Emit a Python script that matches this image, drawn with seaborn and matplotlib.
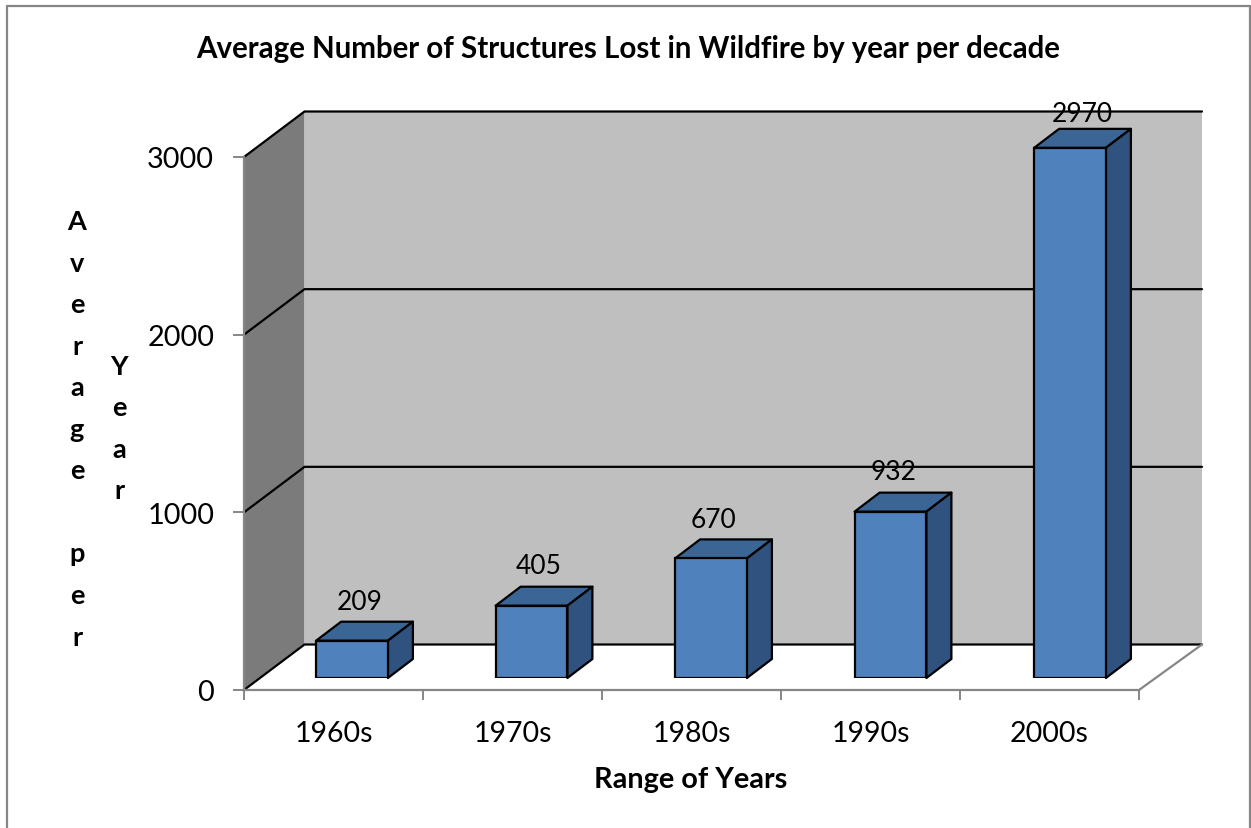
import matplotlib
matplotlib.use("Agg")
import matplotlib.pyplot as plt
from matplotlib.lines import Line2D
from matplotlib.patches import Polygon
import pandas as pd
import seaborn as sns

# Chart data
decades = ["1960s", "1970s", "1980s", "1990s", "2000s"]
structures_lost = [209, 405, 670, 932, 2970]
y_ticks = [0, 1000, 2000, 3000]

title = "Average Number of Structures Lost in Wildfire by year per decade"
x_title = "Range of Years"
y_title_first = "Average per"
y_title_second = "Year"

# Label nudges in pixels from the bar centre and the bar's back top edge
label_nudge = [8, 7, 2, 3, 12]
label_lift = [20, 21, 20, 21, 15]

WIDTH, HEIGHT = 1251, 829
FACE = "#4f81bd"
TOP = "#3b6595"
SIDE = "#30527e"
BACK_WALL = "#bfbfbf"
SIDE_WALL = "#7b7b7b"
AXIS_GREY = "#868686"
BODY_FONT = "Lato"

sns.set_theme(style="white", rc={"font.family": BODY_FONT})

fig = plt.figure(figsize=(WIDTH / 100, HEIGHT / 100), dpi=100, facecolor="white")


def px_axes(left, right, top, bottom):
    """Axes placed by pixel edges, measured from the top-left of the figure."""
    return fig.add_axes([left / WIDTH, 1 - bottom / HEIGHT,
                         (right - left) / WIDTH, (bottom - top) / HEIGHT])


# Wall axes: the front plane of the chart box
ax = px_axes(244, 1139, 158, 691)
ax.set_xlim(-0.5, 4.5)
ax.set_ylim(0, 3000)
ax.patch.set_visible(False)

wall_dx = 60.5 / 179
wall_right = 63 / 179
wall_dy = 45.5 / (533 / 3000)
x0, x1 = -0.5, 4.5
y_top = y_ticks[-1]

ax.add_patch(Polygon([(x0 + wall_dx, wall_dy), (x1 + wall_right, wall_dy),
                      (x1 + wall_right, y_top + wall_dy), (x0 + wall_dx, y_top + wall_dy)],
                     closed=True, fc=BACK_WALL, ec="none", clip_on=False, zorder=1))
ax.add_patch(Polygon([(x0, 0), (x0 + wall_dx, wall_dy),
                      (x0 + wall_dx, y_top + wall_dy), (x0, y_top)],
                     closed=True, fc=SIDE_WALL, ec="none", clip_on=False, zorder=1))

# Gridlines wrap from the side wall across the back wall
for value in y_ticks:
    ax.plot([x0, x0 + wall_dx, x1 + wall_right],
            [value, value + wall_dy, value + wall_dy],
            color="black", lw=1.6, clip_on=False, zorder=2, solid_joinstyle="miter")

# Floor edge at the right
ax.plot([x1, x1 + wall_right], [0, wall_dy], color=AXIS_GREY, lw=1.6, clip_on=False, zorder=2)

sns.despine(ax=ax, top=True, right=True)
for name in ("left", "bottom"):
    ax.spines[name].set_color(AXIS_GREY)
    ax.spines[name].set_linewidth(1.6)

ax.set_yticks(y_ticks)
ax.set_yticklabels([str(v) for v in y_ticks])
ax.set_xticks([-0.5, 0.5, 1.5, 2.5, 3.5, 4.5])
ax.set_xticklabels([])
ax.set_xticks(range(len(decades)), labels=decades, minor=True)
ax.tick_params(axis="y", which="major", left=True, length=8, width=1.4, color=AXIS_GREY,
               labelsize=20.8, labelcolor="black", pad=13.5)
ax.tick_params(axis="x", which="major", bottom=True, length=7.5, width=1.4, color=AXIS_GREY)
ax.tick_params(axis="x", which="minor", bottom=False, length=0, labelsize=20.5,
               labelcolor="black", pad=21.5)

# Bar axes: the plane the bar fronts sit on, a little in from the chart box
bar_ax = px_axes(262.25, 1159.75, 679 - 3000 * 0.1785, 679)
bar_ax.patch.set_visible(False)
frame = pd.DataFrame({"decade": decades, "structures": structures_lost})
sns.barplot(data=frame, x="decade", y="structures", order=decades, color=FACE,
            saturation=1, width=0.4, edgecolor="black", linewidth=1.6, ax=bar_ax, zorder=4)
bar_ax.set_xlim(-0.5, 4.5)
bar_ax.set_ylim(0, 3000)
bar_ax.axis("off")

depth_x = 25 / 179.5
depth_y = 19 / 0.1785
for bar in bar_ax.patches:
    left = bar.get_x()
    right = left + bar.get_width()
    height = bar.get_height()
    bar_ax.add_patch(Polygon([(left, height), (right, height),
                              (right + depth_x, height + depth_y), (left + depth_x, height + depth_y)],
                             closed=True, fc=TOP, ec="black", lw=1.6, clip_on=False,
                             joinstyle="round", zorder=3))
    bar_ax.add_patch(Polygon([(right, 0), (right + depth_x, depth_y),
                              (right + depth_x, height + depth_y), (right, height)],
                             closed=True, fc=SIDE, ec="black", lw=1.6, clip_on=False,
                             joinstyle="round", zorder=3))

# Value labels float just above the back edge of each bar top
for pos, (value, nudge, lift) in enumerate(zip(structures_lost, label_nudge, label_lift)):
    bar_ax.annotate(str(value), xy=(pos, value + depth_y), xytext=(nudge * 0.72, lift * 0.72),
                    textcoords="offset points", ha="center", va="center",
                    fontsize=19, color="black", annotation_clip=False, zorder=6)

# Titles
fig.text(628 / WIDTH, 1 - 49 / HEIGHT, title, ha="center", va="center",
         fontsize=21.25, fontweight="bold", color="black")
fig.text(691 / WIDTH, 1 - 780 / HEIGHT, x_title, ha="center", va="center",
         fontsize=20.7, fontweight="bold", color="black")
fig.text(77 / WIDTH, 1 - 430 / HEIGHT, "\n".join(y_title_first), ha="center", va="center",
         fontsize=19.5, fontweight="bold", color="black", linespacing=1.875)
fig.text(119 / WIDTH, 1 - 429 / HEIGHT, "\n".join(y_title_second), ha="center", va="center",
         fontsize=19.5, fontweight="bold", color="black", linespacing=1.875)

# Chart area frame, open past the lower edge of the figure
for xs, ys in [([7, 7], [HEIGHT, 7]), ([7, 1250], [7, 7]), ([1250, 1250], [7, HEIGHT])]:
    fig.add_artist(Line2D([x / WIDTH for x in xs], [1 - y / HEIGHT for y in ys],
                          transform=fig.transFigure, color="#868686", lw=1.6))

fig.savefig("out.png", dpi=100, facecolor="white")
